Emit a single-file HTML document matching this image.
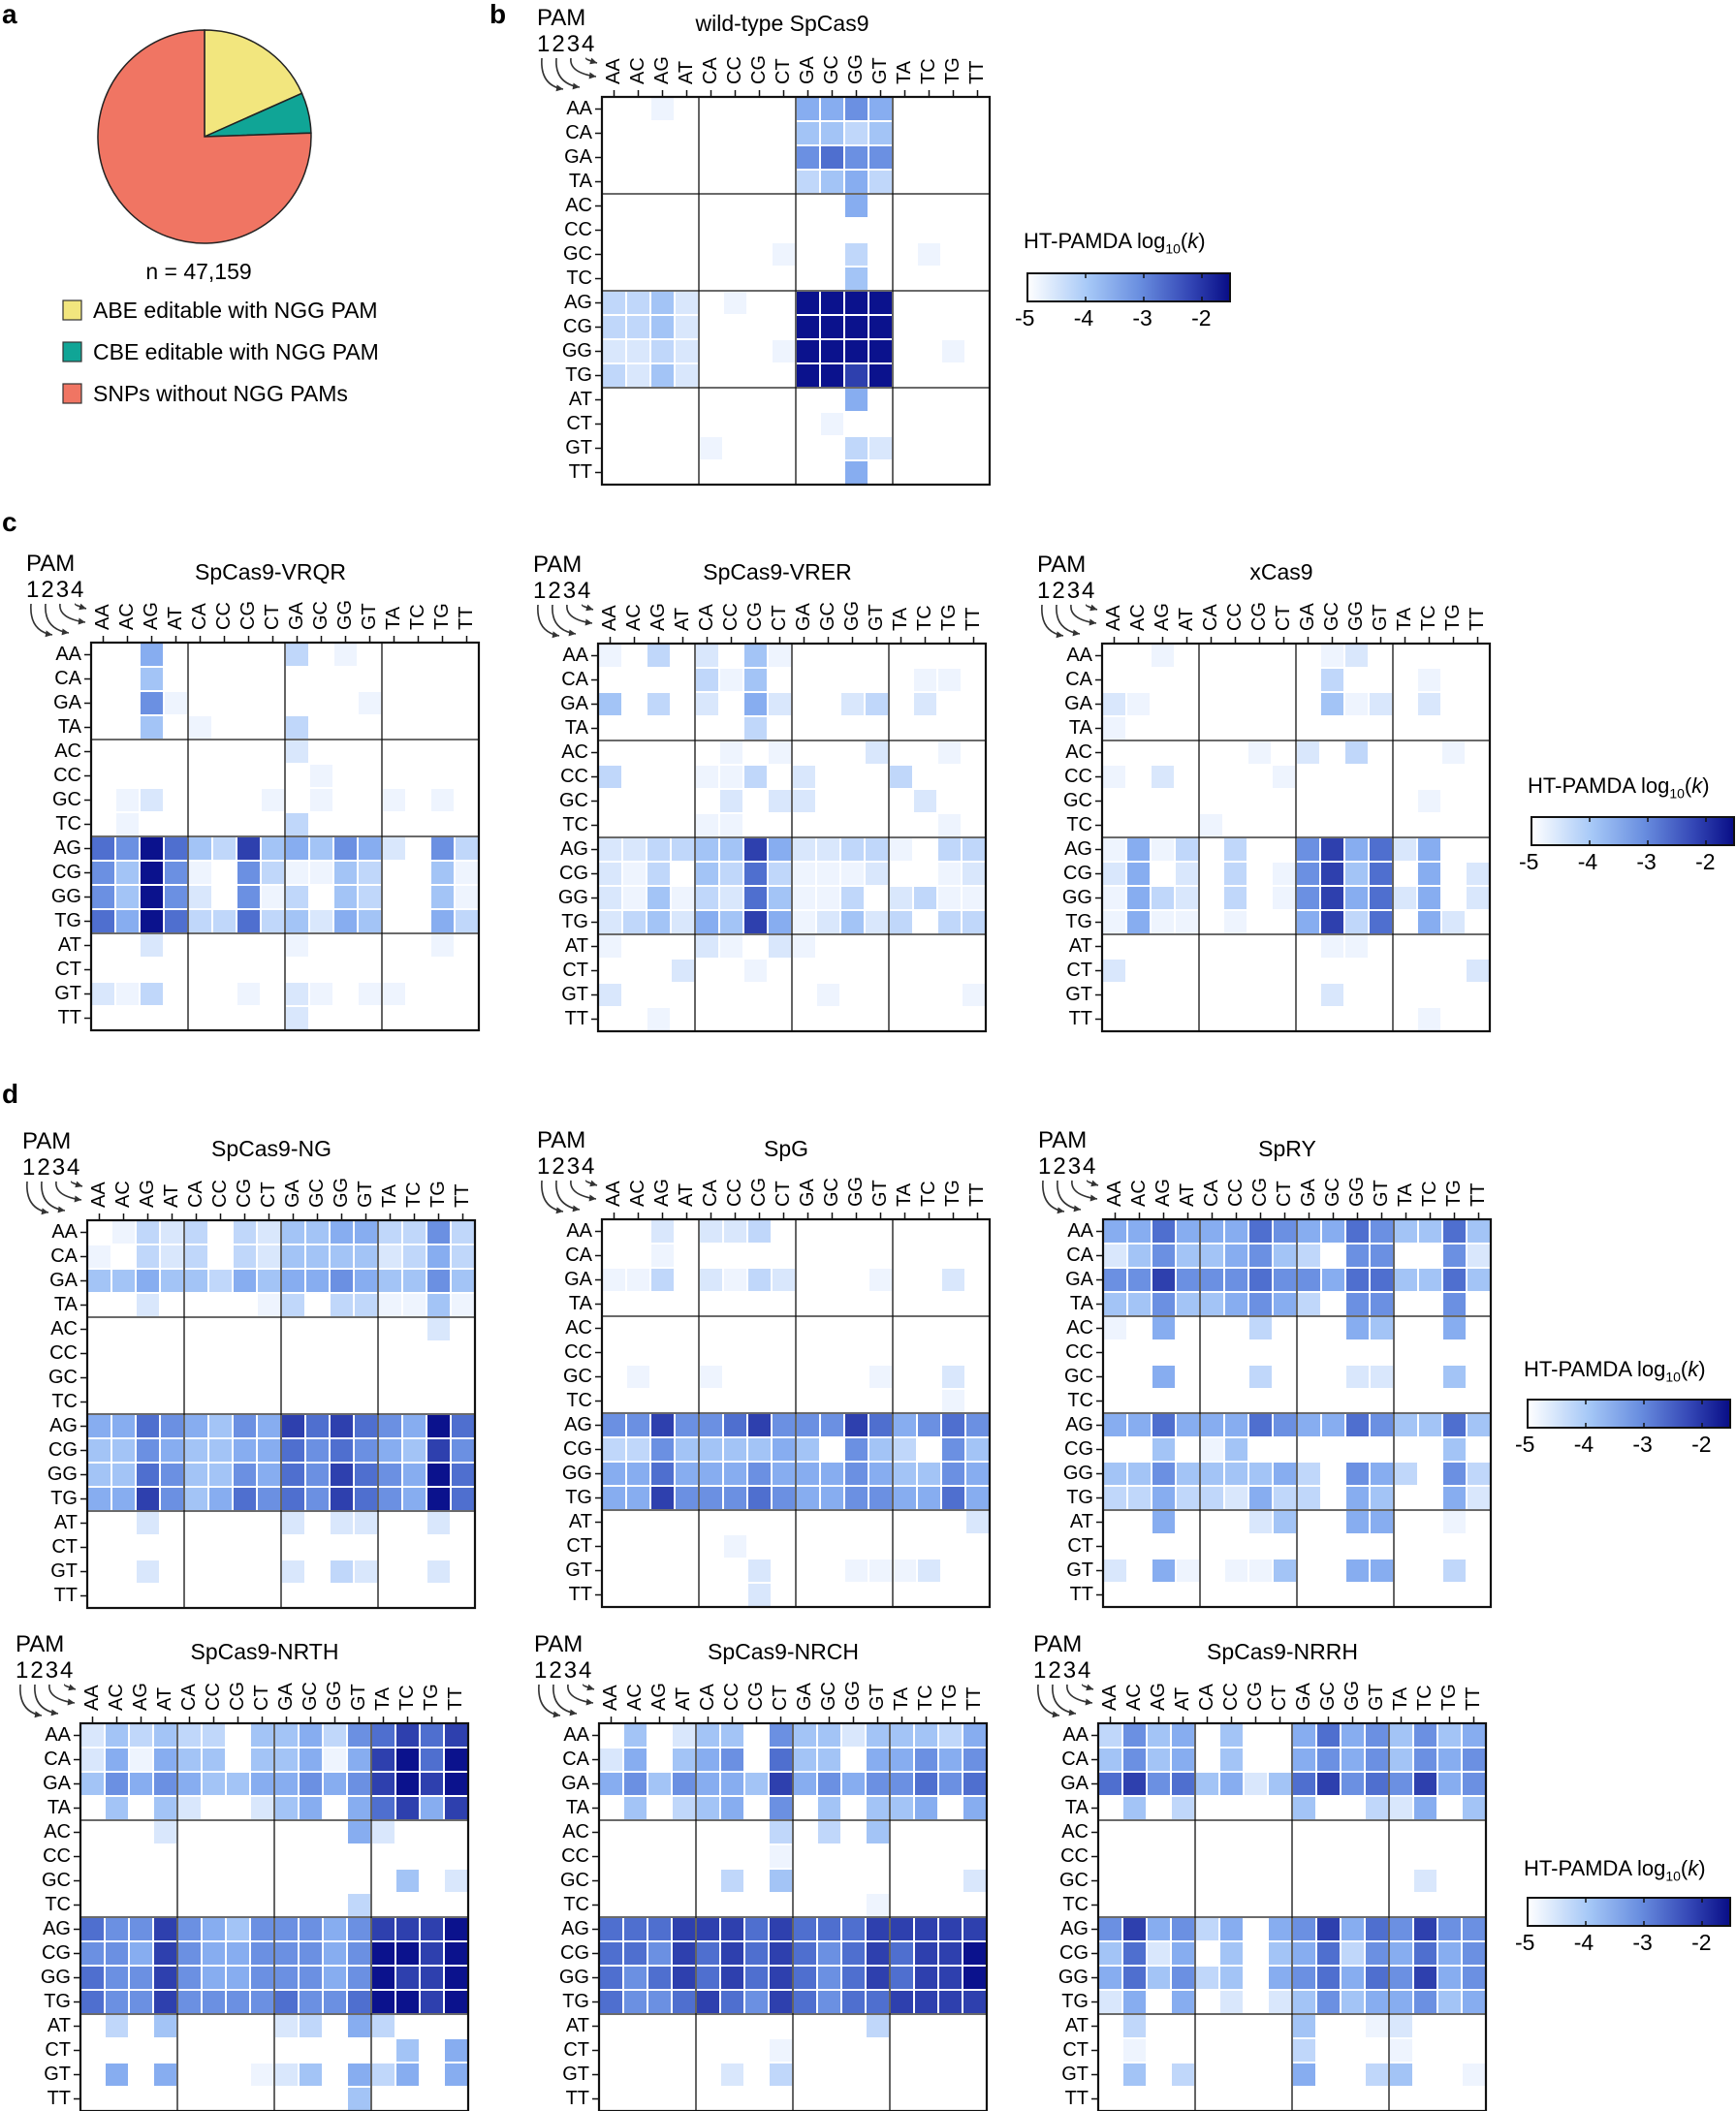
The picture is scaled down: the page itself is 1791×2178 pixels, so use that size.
<!DOCTYPE html>
<html><head><meta charset="utf-8">
<style>
html,body{margin:0;padding:0;background:#fff;}
body{width:1791px;height:2178px;position:relative;overflow:hidden;font-family:"Liberation Sans",Arial,sans-serif;color:#000;}
#g{position:absolute;left:0;top:0;}
.rl{position:absolute;width:52px;text-align:right;line-height:25px;font-size:20px;}
.cl{position:absolute;width:46px;height:400px;line-height:25px;font-size:20px;transform:rotate(-90deg);transform-origin:0 0;white-space:nowrap;}
.pam{position:absolute;font-size:24px;line-height:27px}
.pam span{letter-spacing:2px}
.cbl{position:absolute;font-size:22px;white-space:nowrap}
.cbl sub{font-size:14px}
.cbt{position:absolute;font-size:23px;white-space:nowrap}
</style></head><body>
<svg id="g" width="1791" height="2178" xmlns="http://www.w3.org/2000/svg" font-family="Liberation Sans, Arial, sans-serif">
<defs><linearGradient id="cb" x1="0" x2="1" y1="0" y2="0">
<stop offset="0" stop-color="#ffffff"/><stop offset="0.3" stop-color="#a6c8f7"/><stop offset="0.55" stop-color="#6a8fe0"/><stop offset="0.8" stop-color="#3447b6"/><stop offset="1" stop-color="#080d86"/></linearGradient></defs>
<g font-weight="bold" font-size="28">
<text x="2" y="24">a</text><text x="505" y="24">b</text><text x="2" y="548">c</text><text x="2" y="1138">d</text></g>
<path d="M211,141 L211,31 A110,110 0 0 1 311.5,96.3 Z" fill="#f2e67e" stroke="#222" stroke-width="1.5"/>
<path d="M211,141 L311.5,96.3 A110,110 0 0 1 320.9,137.2 Z" fill="#10a596" stroke="#222" stroke-width="1.5"/>
<path d="M211,141 L320.9,137.2 A110,110 0 1 1 211,31 Z" fill="#f07563" stroke="#222" stroke-width="1.5"/>
<text x="205" y="288" font-size="23" text-anchor="middle">n = 47,159</text>
<rect x="65" y="310" width="19" height="20" fill="#f2e67e" stroke="#333" stroke-width="1.2"/>
<rect x="65" y="353" width="19" height="20" fill="#10a596" stroke="#333" stroke-width="1.2"/>
<rect x="65" y="396" width="19" height="20" fill="#f07563" stroke="#333" stroke-width="1.2"/>
<g font-size="23"><text x="96" y="328">ABE editable with NGG PAM</text>
<text x="96" y="371">CBE editable with NGG PAM</text>
<text x="96" y="414">SNPs without NGG PAMs</text></g>
<g font-size="23" text-anchor="middle">
<text x="807" y="32">wild-type SpCas9</text>
<text x="279" y="598">SpCas9-VRQR</text>
<text x="802" y="598">SpCas9-VRER</text>
<text x="1322" y="598">xCas9</text>
<text x="280" y="1193">SpCas9-NG</text>
<text x="811" y="1193">SpG</text>
<text x="1328" y="1193">SpRY</text>
<text x="273" y="1712">SpCas9-NRTH</text>
<text x="808" y="1712">SpCas9-NRCH</text>
<text x="1323" y="1712">SpCas9-NRRH</text>
</g>
<g id="cbs"></g>
<g id="hm"></g>
</svg>

<div class="rl" style="left:559px;top:100px">AA<br>CA<br>GA<br>TA<br>AC<br>CC<br>GC<br>TC<br>AG<br>CG<br>GG<br>TG<br>AT<br>CT<br>GT<br>TT</div>
<div class="cl" style="left:621px;top:87px">AA<br>AC<br>AG<br>AT<br>CA<br>CC<br>CG<br>CT<br>GA<br>GC<br>GG<br>GT<br>TA<br>TC<br>TG<br>TT</div>

<div class="rl" style="left:32px;top:663px">AA<br>CA<br>GA<br>TA<br>AC<br>CC<br>GC<br>TC<br>AG<br>CG<br>GG<br>TG<br>AT<br>CT<br>GT<br>TT</div>
<div class="cl" style="left:94px;top:650px">AA<br>AC<br>AG<br>AT<br>CA<br>CC<br>CG<br>CT<br>GA<br>GC<br>GG<br>GT<br>TA<br>TC<br>TG<br>TT</div>
<div class="rl" style="left:555px;top:664px">AA<br>CA<br>GA<br>TA<br>AC<br>CC<br>GC<br>TC<br>AG<br>CG<br>GG<br>TG<br>AT<br>CT<br>GT<br>TT</div>
<div class="cl" style="left:617px;top:651px">AA<br>AC<br>AG<br>AT<br>CA<br>CC<br>CG<br>CT<br>GA<br>GC<br>GG<br>GT<br>TA<br>TC<br>TG<br>TT</div>
<div class="rl" style="left:1075px;top:664px">AA<br>CA<br>GA<br>TA<br>AC<br>CC<br>GC<br>TC<br>AG<br>CG<br>GG<br>TG<br>AT<br>CT<br>GT<br>TT</div>
<div class="cl" style="left:1137px;top:651px">AA<br>AC<br>AG<br>AT<br>CA<br>CC<br>CG<br>CT<br>GA<br>GC<br>GG<br>GT<br>TA<br>TC<br>TG<br>TT</div>

<div class="rl" style="left:28px;top:1259px">AA<br>CA<br>GA<br>TA<br>AC<br>CC<br>GC<br>TC<br>AG<br>CG<br>GG<br>TG<br>AT<br>CT<br>GT<br>TT</div>
<div class="cl" style="left:90px;top:1246px">AA<br>AC<br>AG<br>AT<br>CA<br>CC<br>CG<br>CT<br>GA<br>GC<br>GG<br>GT<br>TA<br>TC<br>TG<br>TT</div>
<div class="rl" style="left:559px;top:1258px">AA<br>CA<br>GA<br>TA<br>AC<br>CC<br>GC<br>TC<br>AG<br>CG<br>GG<br>TG<br>AT<br>CT<br>GT<br>TT</div>
<div class="cl" style="left:621px;top:1245px">AA<br>AC<br>AG<br>AT<br>CA<br>CC<br>CG<br>CT<br>GA<br>GC<br>GG<br>GT<br>TA<br>TC<br>TG<br>TT</div>
<div class="rl" style="left:1076px;top:1258px">AA<br>CA<br>GA<br>TA<br>AC<br>CC<br>GC<br>TC<br>AG<br>CG<br>GG<br>TG<br>AT<br>CT<br>GT<br>TT</div>
<div class="cl" style="left:1138px;top:1245px">AA<br>AC<br>AG<br>AT<br>CA<br>CC<br>CG<br>CT<br>GA<br>GC<br>GG<br>GT<br>TA<br>TC<br>TG<br>TT</div>

<div class="rl" style="left:21px;top:1778px">AA<br>CA<br>GA<br>TA<br>AC<br>CC<br>GC<br>TC<br>AG<br>CG<br>GG<br>TG<br>AT<br>CT<br>GT<br>TT</div>
<div class="cl" style="left:83px;top:1765px">AA<br>AC<br>AG<br>AT<br>CA<br>CC<br>CG<br>CT<br>GA<br>GC<br>GG<br>GT<br>TA<br>TC<br>TG<br>TT</div>
<div class="rl" style="left:556px;top:1778px">AA<br>CA<br>GA<br>TA<br>AC<br>CC<br>GC<br>TC<br>AG<br>CG<br>GG<br>TG<br>AT<br>CT<br>GT<br>TT</div>
<div class="cl" style="left:618px;top:1765px">AA<br>AC<br>AG<br>AT<br>CA<br>CC<br>CG<br>CT<br>GA<br>GC<br>GG<br>GT<br>TA<br>TC<br>TG<br>TT</div>
<div class="rl" style="left:1071px;top:1778px">AA<br>CA<br>GA<br>TA<br>AC<br>CC<br>GC<br>TC<br>AG<br>CG<br>GG<br>TG<br>AT<br>CT<br>GT<br>TT</div>
<div class="cl" style="left:1133px;top:1765px">AA<br>AC<br>AG<br>AT<br>CA<br>CC<br>CG<br>CT<br>GA<br>GC<br>GG<br>GT<br>TA<br>TC<br>TG<br>TT</div>

<div class="pam" style="left:554px;top:5px">PAM<br><span>1234</span></div>
<div class="pam" style="left:27px;top:568px">PAM<br><span>1234</span></div>
<div class="pam" style="left:550px;top:569px">PAM<br><span>1234</span></div>
<div class="pam" style="left:1070px;top:569px">PAM<br><span>1234</span></div>
<div class="pam" style="left:23px;top:1164px">PAM<br><span>1234</span></div>
<div class="pam" style="left:554px;top:1163px">PAM<br><span>1234</span></div>
<div class="pam" style="left:1071px;top:1163px">PAM<br><span>1234</span></div>
<div class="pam" style="left:16px;top:1683px">PAM<br><span>1234</span></div>
<div class="pam" style="left:551px;top:1683px">PAM<br><span>1234</span></div>
<div class="pam" style="left:1066px;top:1683px">PAM<br><span>1234</span></div>

<div class="cbl" style="left:1056px;top:236px">HT-PAMDA log<sub>10</sub>(<i>k</i>)</div>
<div class="cbl" style="left:1576px;top:798px">HT-PAMDA log<sub>10</sub>(<i>k</i>)</div>
<div class="cbl" style="left:1572px;top:1400px">HT-PAMDA log<sub>10</sub>(<i>k</i>)</div>
<div class="cbl" style="left:1572px;top:1915px">HT-PAMDA log<sub>10</sub>(<i>k</i>)</div>
<div class="cbt" style="left:1047px;top:315px">-5&#8195;&#8194;&#8197;-4&#8195;&#8194;&#8197;-3&#8195;&#8194;&#8197;-2</div>
<div class="cbt" style="left:1567px;top:876px">-5&#8195;&#8194;&#8197;-4&#8195;&#8194;&#8197;-3&#8195;&#8194;&#8197;-2</div>
<div class="cbt" style="left:1563px;top:1477px">-5&#8195;&#8194;&#8197;-4&#8195;&#8194;&#8197;-3&#8195;&#8194;&#8197;-2</div>
<div class="cbt" style="left:1563px;top:1991px">-5&#8195;&#8194;&#8197;-4&#8195;&#8194;&#8197;-3&#8195;&#8194;&#8197;-2</div>

<script>
var NS="http://www.w3.org/2000/svg";
var L=['#ffffff','#eef4fe','#d9e7fc','#c0d7fa','#a3c4f6','#87adf0','#6b90e2','#4f6fcf','#2e40ae','#0b128d'];
function el(p,t,a){var e=document.createElementNS(NS,t);for(var k in a)e.setAttribute(k,a[k]);p.appendChild(e);return e;}
var hm=document.getElementById('hm');
var H=[
[621,100,["0010000055650000","0000000044340000","0000000067660000","0000000034530000","0000000000500000","0000000000000000","0000000100300100","0000000000400000","3342010099990000","3342000099990000","2232000199990010","3242000099890000","0000000000500000","0000000001000000","0000100000320000","0000000000500000"]],
[94,663,["0050000030100000","0040000000000000","0061000000010000","0040100030000000","0000000020000000","0000000001000000","0120000101001010","0100000030000000","7697438454652063","6496106311430041","6496206130430041","7597337342540053","0020000010000010","0000000000000000","2130001021011000","0000000020000000"]],
[617,664,["1030204100000000","0000314000000110","4030205200230200","0000003000000000","0000010100020010","3000113020003000","0000020220000200","0000110000000010","2233448522331033","2130437311120012","2141327411302311","2342548512423033","1000210210000000","0002001000000000","2000000001000001","0010000000000000"]],
[1137,664,["0010000001200000","0000000003000100","2100000004120200","1000000000000000","0000001020300010","1020000100000000","0000000000000100","0000100000000000","1513030068572500","2502030168470502","1532030168572502","1511010058370520","0000000001100000","2000000000000002","0000000002000000","0000000000000100"]],
[90,1259,["0132303244553363","1032303244442353","4454435455654464","0020000130331141","0000000000000020","0000000000000000","0000000000000000","0000000000000000","5576546587876597","4465445576765486","4476446576876597","5586457676876597","0020000020220020","0000000000000000","0020000020320020","0000000000000000"]],
[621,1258,["0020223000000000","0010000000000000","1130213200010020","0000000000000000","0000000000000000","0000000000000000","0100100000010020","0000000000000010","6686678666875676","3364444540643064","5575556555654465","5586667655665575","0000000000000002","0000010000000000","0000002000111200","0000002000000000"]],
[1138,1258,["5575557655764474","2464456430660062","6686667665774474","4464456530660060","1050003000540050","0000000000000000","0050003000220040","0000000000000000","5575557655764474","0040140000000040","4464444530653063","3353325330540052","0050002400550010","0000000000000000","2051011400550030","0000000000000000"]],
[83,1778,["2434330445367878","2515440445158979","4656544556568989","0404200245057858","0002000000052000","0000000000000000","0000000000000402","0000000000030000","7668654666568889","6658655666569989","7668655666569889","7668666676679989","0304000023053000","0000000000000405","0505000124053505","0000000000040000"]],
[618,1778,["0402440644244435","2504560744055656","5646554856566767","0403450604044505","0000000303040000","0000000100000000","0000030400000002","0000000000010000","7778887877788888","7768787876787889","7678787876787889","7667876876778888","0000000000030000","0000000100000000","0000020300000000","0000000000000000"]],
[1133,1778,["3645040057564645","4645040056564656","7867452478676856","0403000040032504","0000000000000000","0000000000000000","0000000000000200","0000000000000000","6856350568576866","4725040457365756","5746340567576856","2505020246455645","0300000040012000","0100000030001000","0403000050034001","0000000000000000"]]
];
H.forEach(function(h){
 var gx=h[0],gy=h[1],d=h[2];
 for(var r=0;r<16;r++)for(var c=0;c<16;c++){var v=+d[r][c];if(v>0)el(hm,'rect',{x:gx+c*25+1,y:gy+r*25+1,width:23,height:23,fill:L[v]});}
 for(var i=1;i<4;i++){el(hm,'line',{x1:gx+i*100,x2:gx+i*100,y1:gy,y2:gy+400,stroke:'#111','stroke-width':1.3});
  el(hm,'line',{y1:gy+i*100,y2:gy+i*100,x1:gx,x2:gx+400,stroke:'#111','stroke-width':1.3});}
 el(hm,'rect',{x:gx,y:gy,width:400,height:400,fill:'none',stroke:'#111','stroke-width':2.2});
 for(var i=0;i<16;i++){var p=12.5+25*i;
  el(hm,'line',{x1:gx+p,x2:gx+p,y1:gy-7,y2:gy,stroke:'#111','stroke-width':1.5});
  el(hm,'line',{y1:gy+p,y2:gy+p,x1:gx-7,x2:gx,stroke:'#111','stroke-width':1.5});}
 var A=[[-62,-40,-40,-8],[-47,-40,-23,-10],[-32,-40,-6,-21],[-16,-40,-5,-35]];
 A.forEach(function(a){var sx=gx+a[0],sy=gy+a[1],ex=gx+a[2],ey=gy+a[3];
  var cx=sx-2,cy=ey-4;
  el(hm,'path',{d:'M'+sx+','+sy+' Q'+cx+','+cy+' '+ex+','+ey,fill:'none',stroke:'#333','stroke-width':1.6});
  var dx=ex-cx,dy=ey-cy,n=Math.sqrt(dx*dx+dy*dy);dx/=n;dy/=n;
  var px=-dy,py=dx;
  el(hm,'path',{d:'M'+ex+','+ey+' L'+(ex-7*dx+3.5*px)+','+(ey-7*dy+3.5*py)+' L'+(ex-7*dx-3.5*px)+','+(ey-7*dy-3.5*py)+' Z',fill:'#333'});
 });
});
var cbs=document.getElementById('cbs');
[[1060,282],[1580,843],[1576,1444],[1576,1958]].forEach(function(b){
 el(cbs,'rect',{x:b[0],y:b[1],width:209,height:29,fill:'url(#cb)',stroke:'#111','stroke-width':2});
 for(var i=1;i<4;i++){var x=b[0]+60*i;el(cbs,'line',{x1:x,x2:x,y1:b[1],y2:b[1]+5,stroke:'#111','stroke-width':1.5});el(cbs,'line',{x1:x,x2:x,y1:b[1]+24,y2:b[1]+29,stroke:'#111','stroke-width':1.5});}
});
</script>
</body></html>
